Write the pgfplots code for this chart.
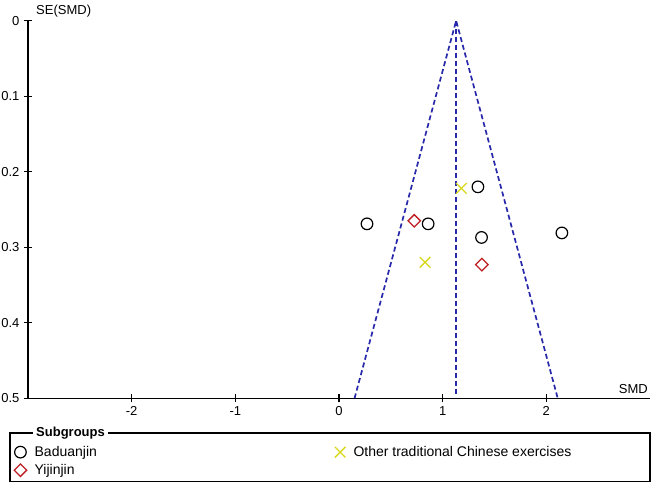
\documentclass[border=0pt]{standalone}
\usepackage{pgfplots}
\pgfplotsset{compat=1.18}
\usepackage{fontspec}
\setmainfont{Liberation Sans}
\definecolor{funnelblue}{RGB}{40,40,170}
\definecolor{diamondred}{RGB}{190,30,35}
\definecolor{xyellow}{RGB}{215,215,30}
\begin{document}
\fontsize{13bp}{15.5bp}\selectfont
\begin{tikzpicture}
\path[use as bounding box] (-28bp,-90.7bp) rectangle (632bp,398.3bp);
\begin{axis}[
  scale only axis, width=622bp, height=377.6bp,
  xmin=-3, xmax=3, ymin=0, ymax=0.5, y dir=reverse,
  axis x line*=bottom, axis y line*=left,
  axis line style={-, line width=1.3bp},
  tick align=center, major tick length=8bp,
  tick style={line width=1.2bp, black},
  xtick={-2,-1,0,1,2}, xticklabels={-2,-1,0,1,2},
  ytick={0,0.1,0.2,0.3,0.4,0.5}, yticklabels={0,0.1,0.2,0.3,0.4,0.5},
  tick label style={font=\fontsize{13bp}{15.5bp}\selectfont},
  /pgf/number format/assume math mode=true,
  clip=false,
  legend columns=2,
  legend cell align=left,
  legend style={draw=none, fill=none, at={(-0.0273,-0.1155)}, anchor=north west,
    font=\fontsize{14bp}{16bp}\selectfont,
    /tikz/row sep=2bp,
    /tikz/every odd column/.append style={column sep=6bp},
    /tikz/every even column/.append style={column sep=236bp}},
  legend image code/.code={\draw[mark repeat=2,mark phase=2] plot coordinates {(0bp,0bp)(8bp,0bp)(16bp,0bp)};},
]
\addplot[funnelblue, line width=1.7bp, dash pattern=on 5bp off 3bp, forget plot] coordinates {(0.15,0.5) (1.13,0) (2.11,0.5)};
\addplot[funnelblue, line width=1.7bp, dash pattern=on 5bp off 3bp, forget plot] coordinates {(1.13,0) (1.13,0.495)};
\addplot[only marks, mark=o, mark size=5.8bp, black, mark options={line width=1.2bp}] coordinates {(1.34,0.220) (0.27,0.269) (0.86,0.269) (1.375,0.287) (2.15,0.281)};
\addlegendentry{Baduanjin}
\addplot[only marks, mark=x, mark size=7.5bp, xyellow, mark options={line width=1.3bp}] coordinates {(1.18,0.222) (0.83,0.320)};
\addlegendentry{Other traditional Chinese exercises}
\addplot[only marks, mark=square, mark size=4.4bp, diamondred, mark options={rotate=45, line width=1.3bp}] coordinates {(0.726,0.265) (1.378,0.323)};
\addlegendentry{Yijinjin}
\node[anchor=south west, inner sep=0pt] at (axis description cs:0,1) [xshift=8bp, yshift=3bp] {SE(SMD)};
\node[anchor=south east, inner sep=0pt] at (axis description cs:1,0) [xshift=-2bp, yshift=4bp] {SMD};
\end{axis}
\draw[line width=1.3bp] (-18bp,-34.7bp) rectangle (622bp,-83.4bp);
\node[fill=white, anchor=west, inner xsep=3bp, inner ysep=1bp, font=\fontsize{13bp}{15bp}\selectfont\bfseries] at (5bp,-34.7bp) {Subgroups};
\end{tikzpicture}
\end{document}
